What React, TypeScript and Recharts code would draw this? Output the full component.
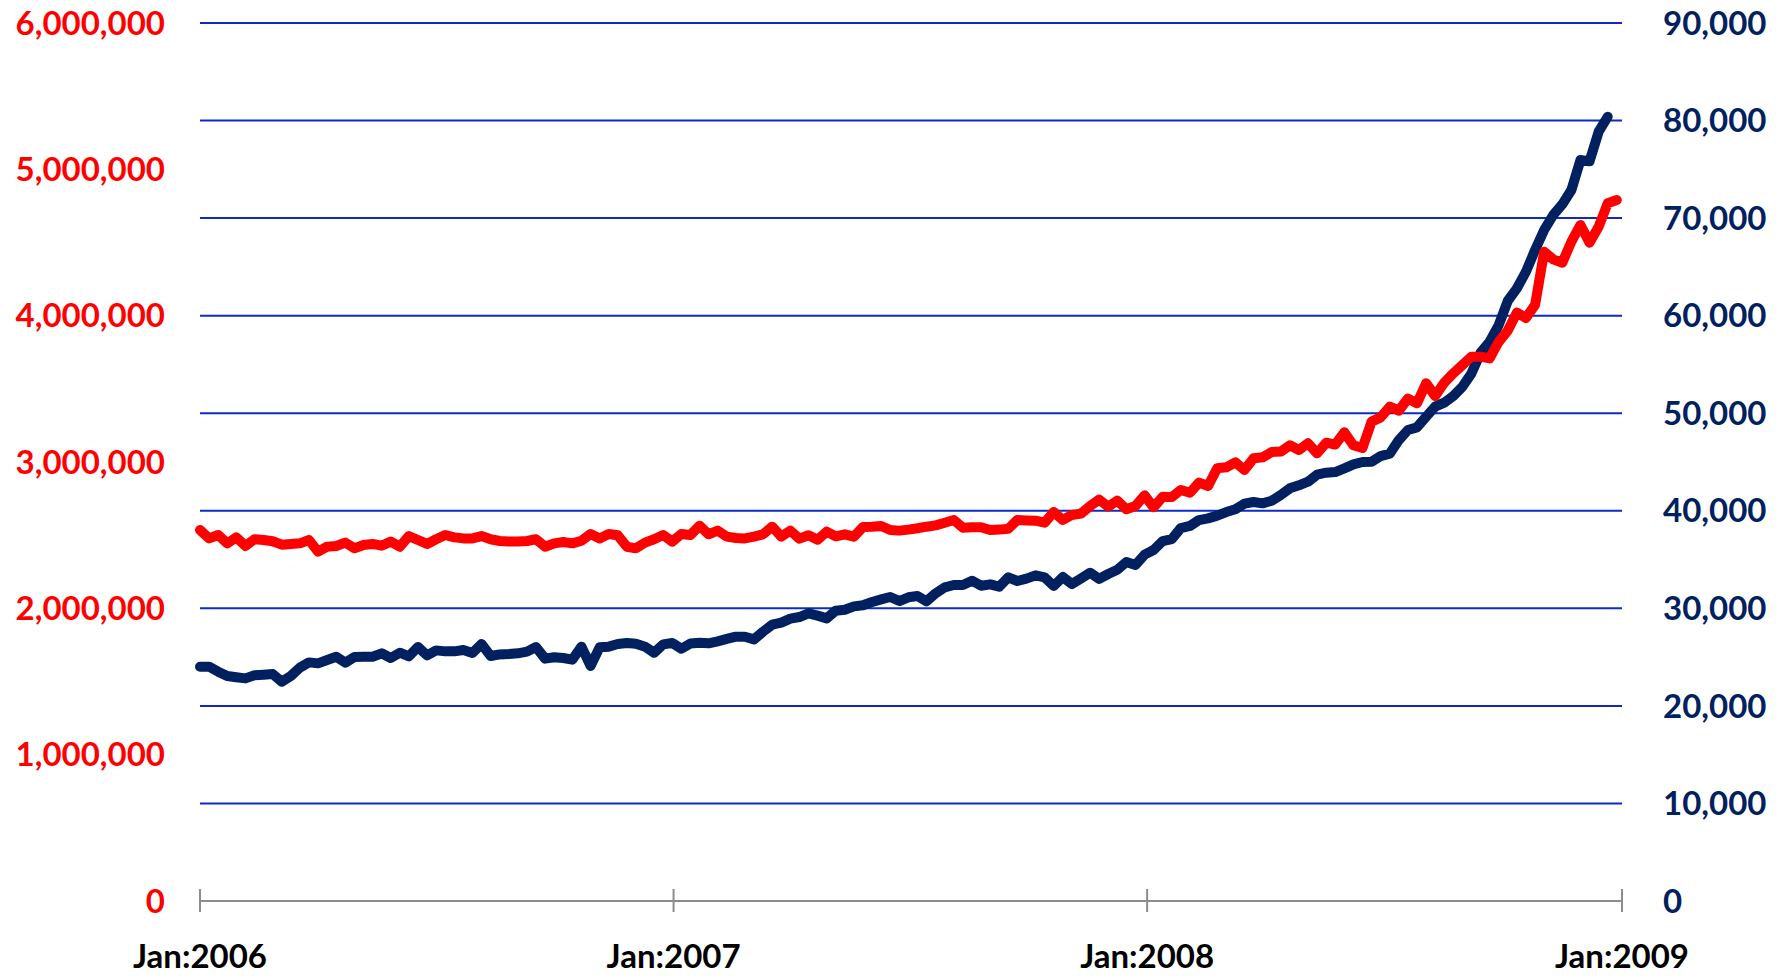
import { LineChart, Line, XAxis, YAxis, CartesianGrid } from 'recharts'

// weekly readings, first week starts on day 0 (Jan 1 2006)
const redValues = [
  2535000, 2478000, 2501000, 2444000, 2485000, 2426000, 2472000, 2467000, 2458000, 2435000,
  2440000, 2444000, 2467000, 2387000, 2421000, 2426000, 2449000, 2410000, 2433000, 2440000,
  2428000, 2456000, 2421000, 2494000, 2467000, 2440000, 2472000, 2501000, 2485000, 2478000,
  2478000, 2494000, 2472000, 2460000, 2456000, 2456000, 2460000, 2472000, 2421000, 2444000,
  2453000, 2444000, 2462000, 2508000, 2478000, 2508000, 2499000, 2421000, 2410000, 2449000,
  2472000, 2501000, 2456000, 2508000, 2501000,
  2565000, 2506000, 2531000, 2490000, 2481000, 2478000, 2490000, 2506000, 2558000, 2490000,
  2531000, 2476000, 2499000, 2469000, 2524000, 2492000, 2506000, 2490000, 2556000, 2558000,
  2563000, 2535000, 2531000, 2538000, 2547000, 2558000, 2567000, 2585000, 2604000, 2551000,
  2554000, 2554000, 2535000, 2538000, 2544000, 2604000, 2601000, 2599000, 2585000, 2658000,
  2604000, 2638000, 2647000, 2699000, 2743000, 2695000, 2736000, 2677000, 2699000, 2772000,
  2690000, 2763000, 2760000,
  2809000, 2790000, 2859000, 2836000, 2957000, 2964000, 2998000, 2945000, 3025000, 3032000,
  3068000, 3071000, 3114000, 3082000, 3128000, 3059000, 3132000, 3119000, 3203000, 3114000,
  3096000, 3276000, 3305000, 3378000, 3351000, 3433000, 3401000, 3538000, 3451000, 3542000,
  3606000, 3663000, 3720000, 3720000, 3708000, 3822000, 3898000, 4021000, 3984000, 4073000,
  4437000, 4385000, 4362000, 4506000, 4620000, 4499000, 4608000, 4768000, 4790000,
]

const navyValues = [
  24020, 24020, 23510, 23060, 22930, 22820, 23130, 23200, 23270, 22480,
  23060, 23920, 24460, 24360, 24700, 25040, 24430, 25010, 25040, 25040,
  25390, 24910, 25450, 25080, 26030, 25180, 25690, 25590, 25590, 25730,
  25420, 26340, 25110, 25280, 25320, 25390, 25560, 26030, 24840, 24980,
  24910, 24740, 26070, 24090, 26000, 26070, 26340, 26450, 26380, 26070,
  25450, 26310, 26450, 25860, 26400,
  26480, 26410, 26620, 26860, 27090, 27090, 26820, 27610, 28320, 28530,
  28940, 29110, 29490, 29250, 28970, 29760, 29860, 30200, 30310, 30650,
  30920, 31160, 30750, 31130, 31260, 30720, 31540, 32150, 32390, 32390,
  32830, 32320, 32460, 32220, 33180, 32800, 33040, 33380, 33180, 32290,
  33210, 32490, 33070, 33650, 33010, 33520, 33960, 34750, 34440, 35500,
  35980, 36900, 37100,
  38230, 38440, 39050, 39220, 39500, 39870, 40150, 40730, 40900, 40760,
  41030, 41620, 42300, 42610, 42980, 43700, 43900, 43970, 44350, 44760,
  45000, 45030, 45610, 45850, 47250, 48280, 48550, 49640, 50670, 51080,
  51760, 52720, 54090, 56200, 57330, 59040, 61530, 62800, 64510, 66730,
  68780, 70320, 71410, 72880, 75950, 75820, 78860, 80390,
]

const xTickDays = [0, 365, 730, 1096]
const xTickLabels = ['Jan:2006', 'Jan:2007', 'Jan:2008', 'Jan:2009']
const leftTicks = [0, 1000000, 2000000, 3000000, 4000000, 5000000, 6000000]
const rightTicks = [0, 10000, 20000, 30000, 40000, 50000, 60000, 70000, 80000, 90000]

const RED = '#ff0000'
const NAVY = '#002060'
const FONT = 'Lato, "Open Sans", sans-serif'

const chartData = redValues.map((red, i) => ({
  day: i * 7,
  red,
  navy: i < navyValues.length ? navyValues[i] : null,
}))

const fmt = (v: number) => v.toLocaleString('en-US')

function YearTick(props: any) {
  const { x, y, payload } = props
  const idx = xTickDays.indexOf(payload.value)
  return (
    <g>
      <line x1={x} x2={x} y1={y - 12} y2={y + 11} stroke="#8c8c8c" strokeWidth={2} />
      <text
        x={x}
        y={y + 67}
        textAnchor="middle"
        fill="#000"
        fontFamily={FONT}
        fontWeight={700}
        fontSize={33}
      >
        {xTickLabels[idx]}
      </text>
    </g>
  )
}

export default function App() {
  return (
    <div style={{ position: 'absolute', left: 0, top: 0, background: '#fff' }}>
      <LineChart
        width={1781}
        height={977}
        data={chartData}
        margin={{ top: 23, right: 0, bottom: 0, left: 0 }}
      >
        <CartesianGrid yAxisId="right" vertical={false} stroke="#0d2bc4" strokeWidth={2} />
        <XAxis
          dataKey="day"
          type="number"
          domain={[0, 1096]}
          ticks={xTickDays}
          interval={0}
          height={76}
          tickSize={0}
          tickMargin={0}
          tickLine={false}
          axisLine={{ stroke: '#8c8c8c', strokeWidth: 2 }}
          tick={<YearTick />}
        />
        <YAxis
          yAxisId="left"
          domain={[0, 6000000]}
          ticks={leftTicks}
          width={200}
          axisLine={false}
          tickLine={false}
          tickSize={0}
          tickMargin={35}
          tickFormatter={fmt}
          tick={{ fill: RED, fontSize: 33, fontWeight: 700, fontFamily: FONT }}
        />
        <YAxis
          yAxisId="right"
          orientation="right"
          domain={[0, 90000]}
          ticks={rightTicks}
          width={159}
          axisLine={false}
          tickLine={false}
          tickSize={0}
          tickMargin={41}
          tickFormatter={fmt}
          tick={{ fill: NAVY, fontSize: 33, fontWeight: 700, fontFamily: FONT, textAnchor: 'start' }}
        />
        <Line
          yAxisId="right"
          dataKey="navy"
          stroke={NAVY}
          strokeWidth={10}
          strokeLinejoin="round"
          strokeLinecap="round"
          dot={false}
          isAnimationActive={false}
        />
        <Line
          yAxisId="left"
          dataKey="red"
          stroke={RED}
          strokeWidth={10}
          strokeLinejoin="round"
          strokeLinecap="round"
          dot={false}
          isAnimationActive={false}
        />
      </LineChart>
    </div>
  )
}
